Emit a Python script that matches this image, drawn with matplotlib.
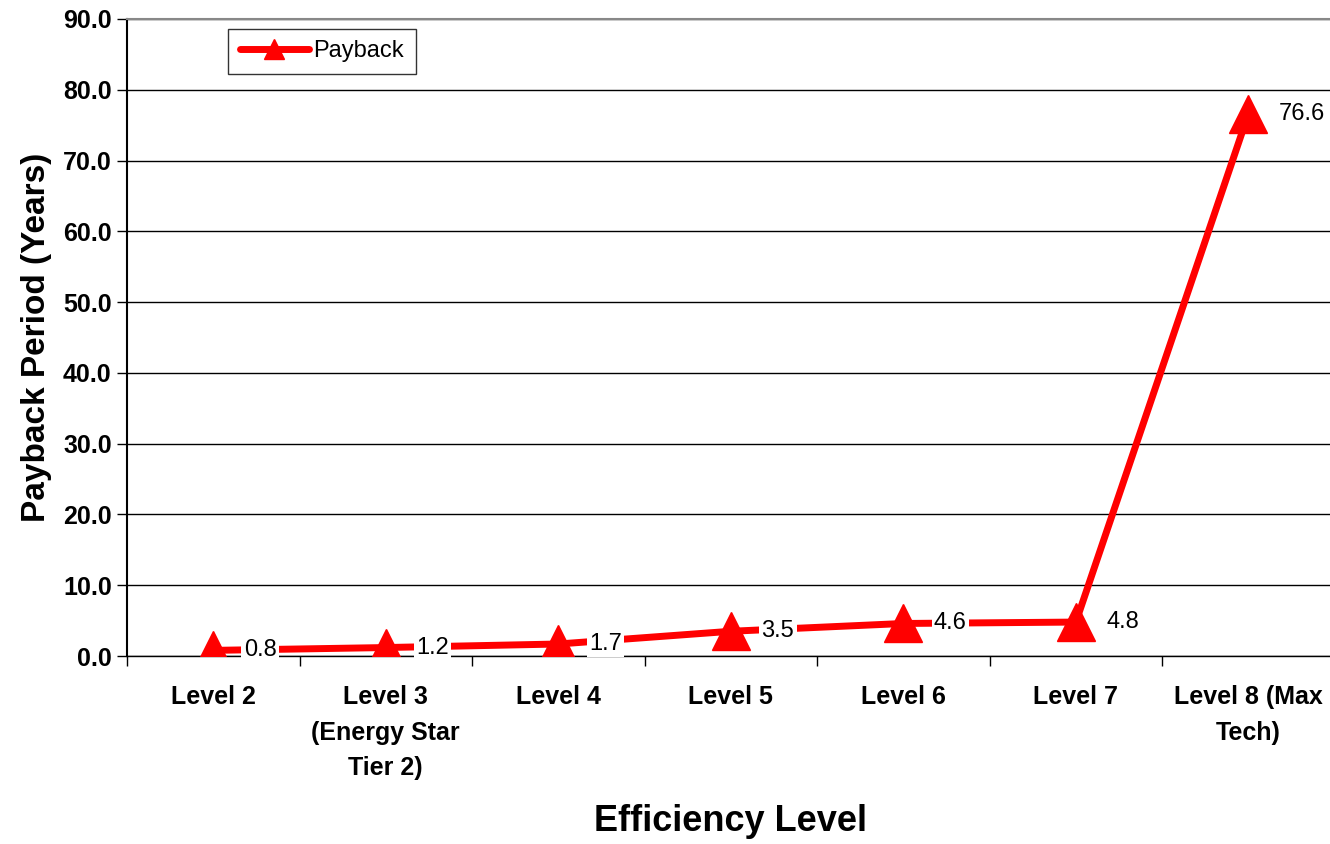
import numpy as np
import matplotlib.pyplot as plt

plt.rcParams['font.family'] = ['Liberation Sans', 'DejaVu Sans']

# Daten
levels = ["Level 2", "Level 3\n(Energy Star\nTier 2)", "Level 4", "Level 5",
          "Level 6", "Level 7", "Level 8 (Max\nTech)"]
payback = [0.8, 1.2, 1.7, 3.5, 4.6, 4.8, 76.6]
yticks = np.arange(0, 91, 10)

fig = plt.figure(figsize=(13.3, 8.44), dpi=100)
ax = fig.add_axes([0.0955, 0.2227, 0.908, 0.7548])

x = np.arange(len(levels))
ax.plot(x, payback, color='red', lw=5, marker='^', ms=28, zorder=3,
        label='Payback', solid_capstyle='round')

for xi, v in zip(x, payback):
    ax.annotate(f"{v:.1f}", (xi, v), xytext=(22, 0), textcoords='offset points',
                ha='left', va='center', fontsize=17, zorder=4,
                bbox=dict(boxstyle='square,pad=0.1', fc='white', ec='none'))

ax.set_xlim(-0.5, len(levels) - 0.5)
ax.set_ylim(0, 90)
ax.set_yticks(yticks)
ax.set_yticklabels([f"{t:.1f}" for t in yticks], fontsize=18, fontweight='bold')
ax.set_xticks(x)
ax.set_xticklabels(levels, fontsize=18, fontweight='bold', va='top', linespacing=1.6)
ax.set_xticks(np.arange(-0.5, len(levels)), minor=True)
ax.tick_params(axis='x', which='major', length=0, pad=21)
ax.tick_params(axis='x', which='minor', length=7, width=1, direction='out')
ax.tick_params(axis='y', length=7, width=1, pad=4)

ax.yaxis.grid(True, color='black', lw=1)
ax.set_axisbelow(True)
ax.spines['right'].set_visible(False)
ax.spines['top'].set_color('#888888')
ax.spines['top'].set_linewidth(1.5)
ax.spines['left'].set_linewidth(1.5)
ax.spines['bottom'].set_linewidth(1)

ax.set_ylabel("Payback Period (Years)", fontsize=24, fontweight='bold', labelpad=8)
# x-Beschriftung unten im Bild
fig.text(ax.get_position().x0 + ax.get_position().width / 2, 0.006,
         "Efficiency Level", fontsize=26, fontweight='bold', ha='center', va='bottom')

leg = ax.legend(loc='upper left', bbox_to_anchor=(0.084, 0.985), fontsize=17,
                frameon=True, fancybox=False, edgecolor='black', markerscale=0.5,
                handlelength=2.9, borderpad=0.5, handletextpad=0.2,
                borderaxespad=0)
leg.get_frame().set_linewidth(1)

fig.savefig("out.png", dpi=100)
